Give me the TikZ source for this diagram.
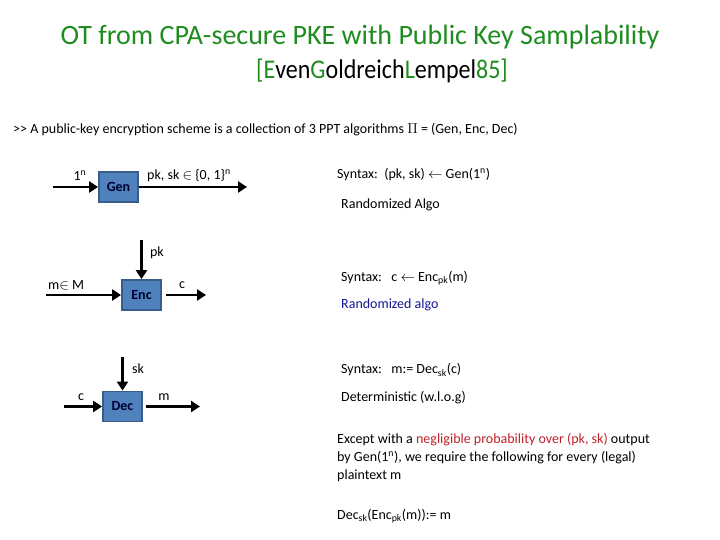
\documentclass[tikz,border=0pt]{standalone}
\usepackage{fontspec}
\setmainfont{Carlito}
\usetikzlibrary{positioning, arrows.meta}
\definecolor{titlegreen}{RGB}{30,140,30}
\definecolor{boxfill}{RGB}{79,129,189}
\definecolor{boxline}{RGB}{56,93,138}
\definecolor{notered}{RGB}{192,32,40}
\definecolor{noteblue}{RGB}{20,20,150}

\begin{document}
\begin{tikzpicture}[x=1pt, y=-1pt, >={Triangle[length=9pt, width=11pt]}, font=\fontsize{14}{16}\selectfont]
    % Stili
    \tikzstyle{block} = [draw=boxline, fill=boxfill, line width=1.8pt, minimum width=39pt, minimum height=30pt, inner sep=0pt, text=black!80!blue, font=\fontsize{14}{16}\selectfont\bfseries]
    \tikzstyle{arr} = [->, line width=2.6pt]
    \tikzstyle{lbl} = [inner sep=0pt]
    \tikzstyle{note} = [anchor=west, inner sep=0pt]

    \useasboundingbox (0,0) rectangle (720,540);

    % Titolo
    \node [lbl, text=titlegreen, font=\fontsize{28}{34}\selectfont] (title) at (360,37) {OT from CPA-secure PKE with Public Key Samplability};
    \node [lbl, text=titlegreen, font=\fontsize{27}{34}\selectfont] (ref) at (382,71) {\scalebox{0.89}[1]{[E\textcolor{black}{ven}G\textcolor{black}{oldreich}L\textcolor{black}{empel}85]}};
    \node [note] (intro) at (13,130) {{>}{>} A public-key encryption scheme is a collection of 3 PPT algorithms $\Pi$ = (Gen, Enc, Dec)};

    % Blocchi
    \node [block] (gen) at (118.5,187) {Gen};
    \node [block] (enc) at (141.5,295) {Enc};
    \node [block] (dec) at (122.5,406.5) {Dec};

    % Estremi liberi
    \coordinate [left of=gen, node distance=65.5pt] (genin);
    \coordinate [right of=gen, node distance=128.5pt] (genout);
    \coordinate [left of=enc, node distance=95.5pt] (encin);
    \coordinate [right of=enc, node distance=64.5pt] (encout);
    \coordinate [above of=enc, node distance=55pt] (pkin);
    \coordinate [left of=dec, node distance=58.5pt] (decin);
    \coordinate [right of=dec, node distance=77.5pt] (decout);
    \coordinate [above of=dec, node distance=49.5pt] (skin);

    % Collegamenti
    \draw [arr] (genin) -- (gen);
    \draw [arr] (gen) -- (genout);
    \draw [arr] (encin) -- (enc);
    \draw [arr] (pkin) -- (enc);
    \draw [arr, shorten <=4pt] (enc) -- (encout);
    \draw [arr] (decin) -- (dec);
    \draw [arr] (skin) -- (dec);
    \draw [arr, shorten <=3pt] (dec) -- (decout);

    % Etichette
    \node [lbl] (nlbl) at (80,176) {1\textsuperscript{n}};
    \node [lbl, anchor=west] (keylbl) at (147,176) {pk, sk $\in$ \{0, 1\}\textsuperscript{n}};
    \node [lbl] (pklbl) at (157,253) {pk};
    \node [lbl, anchor=west] (mlbl) at (48,285) {m$\in$ M};
    \node [lbl] (clbl) at (182,285) {c};
    \node [lbl] (sklbl) at (138,369) {sk};
    \node [lbl] (cinlbl) at (81,397) {c};
    \node [lbl] (moutlbl) at (164,397) {m};

    % Note a destra
    \node [note] (gensyn) at (337,175) {Syntax:\ \ (pk, sk) $\leftarrow$ Gen(1\textsuperscript{n})};
    \node [note] (genrnd) at (341,205) {Randomized Algo};
    \node [note] (encsyn) at (341,278) {Syntax:\ \ \ c $\leftarrow$ Enc\textsubscript{pk}(m)};
    \node [note, text=noteblue] (encrnd) at (341,305) {Randomized algo};
    \node [note] (decsyn) at (341,370) {Syntax:\ \ \ m:= Dec\textsubscript{sk}(c)};
    \node [note] (decdet) at (341,398) {Deterministic (w.l.o.g)};
    \node [note, anchor=north west, align=left, font=\fontsize{14}{18}\selectfont] (correct) at (337,433) {Except with a \textcolor{notered}{negligible probability over (pk, sk)} output\\by Gen(1\textsuperscript{n}), we require the following for every (legal)\\plaintext m};
    \node [note] (rule) at (337,516) {Dec\textsubscript{sk}(Enc\textsubscript{pk}(m)):= m};

\end{tikzpicture}
\end{document}
